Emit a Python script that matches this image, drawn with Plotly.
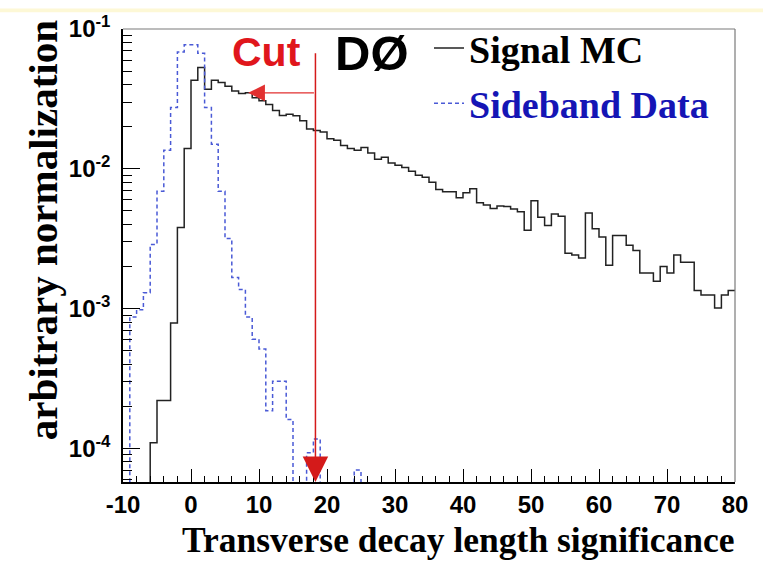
import plotly.graph_objects as go

# ---------------- data ----------------
BIN_EDGES = list(range(-10, 81))  # 90 bins of width 1

SIGNAL_MC = [
    0, 0, 0, 0, 1.1e-4, 2.2e-4, 2.2e-4, 7.9e-4, 3.8e-3, 1.4e-2,          # -10 .. -1
    4.3e-2, 5.3e-2, 3.7e-2, 4.3e-2, 4.15e-2, 3.9e-2, 3.6e-2, 3.45e-2, 3.5e-2, 3.22e-2,  # 0 .. 9
    3.07e-2, 2.88e-2, 2.61e-2, 2.41e-2, 2.46e-2, 2.40e-2, 2.21e-2, 1.93e-2, 1.88e-2, 1.83e-2,  # 10 .. 19
    1.64e-2, 1.60e-2, 1.47e-2, 1.40e-2, 1.36e-2, 1.42e-2, 1.30e-2, 1.17e-2, 1.21e-2, 1.10e-2,  # 20 .. 29
    1.06e-2, 1.02e-2, 9.6e-3, 9.0e-3, 8.7e-3, 8.0e-3, 7.1e-3, 6.85e-3, 6.85e-3, 6.2e-3,  # 30 .. 39
    6.74e-3, 7.2e-3, 5.73e-3, 5.5e-3, 5.2e-3, 5.43e-3, 5.37e-3, 5.15e-3, 4.93e-3, 3.63e-3,  # 40 .. 49
    5.9e-3, 4.5e-3, 3.93e-3, 4.75e-3, 4.57e-3, 2.49e-3, 2.42e-3, 2.3e-3, 4.83e-3, 3.72e-3,  # 50 .. 59
    3.25e-3, 2.04e-3, 3.34e-3, 3.34e-3, 2.84e-3, 2.6e-3, 1.80e-3, 1.80e-3, 1.57e-3, 2.0e-3,  # 60 .. 69
    1.80e-3, 2.42e-3, 2.15e-3, 2.15e-3, 1.35e-3, 1.25e-3, 1.25e-3, 1.01e-3, 1.25e-3, 1.35e-3,  # 70 .. 79
]

SIDEBAND_DATA = [
    0, 8.7e-4, 9.8e-4, 1.30e-3, 2.88e-3, 6.9e-3, 1.36e-2, 2.74e-2, 6.86e-2, 7.7e-2,   # -10 .. -1
    7.7e-2, 6.7e-2, 2.74e-2, 1.5e-2, 6.9e-3, 3.17e-3, 1.67e-3, 1.37e-3, 8.7e-4, 6.05e-4,  # 0 .. 9
    5.15e-4, 1.86e-4, 3.03e-4, 3.03e-4, 1.61e-4, 0, 0, 9.3e-5, 1.17e-4, 0,              # 10 .. 19
    0, 0, 0, 0, 7.0e-5, 0, 0, 0, 0, 0,                                                   # 20 .. 29
] + [0] * 50                                                                             # 30 .. 79

CUT_VALUE = 18.3

X_TICKS = [-10, 0, 10, 20, 30, 40, 50, 60, 70, 80]
X_TICK_LABELS = ["-10", "0", "10", "20", "30", "40", "50", "60", "70", "80"]
Y_TICKS = [1e-4, 1e-3, 1e-2, 1e-1]
Y_TICK_LABELS = ["10<sup>-4</sup>", "10<sup>-3</sup>", "10<sup>-2</sup>", "10<sup>-1</sup>"]
Y_MINOR = [k * 10.0 ** n for n in range(-5, -1) for k in range(2, 10)]

FLOOR = 1e-9  # empty bins drawn below the visible range


def hist_xy(vals):
    y = [v if v > 0 else FLOOR for v in vals]
    return BIN_EDGES, y + [y[-1]]


sx, sy = hist_xy(SIGNAL_MC)
bx, by = hist_xy(SIDEBAND_DATA)

fig = go.Figure()
fig.add_trace(go.Scatter(
    x=sx, y=sy, mode="lines", name="Signal MC", legendgroup="a",
    line=dict(shape="hv", color="#222222", width=1.5),
))
fig.add_trace(go.Scatter(
    x=bx, y=by, mode="lines",
    name="<span style='color:#1515b5'>Sideband Data</span>", legendgroup="b",
    line=dict(shape="hv", color="#4a5ad6", width=1.5, dash="4px,3px"),
))

tickfont = dict(family="Liberation Sans, Arial, sans-serif", size=24, color="black", weight="bold")

fig.update_layout(
    width=763, height=561,
    margin=dict(l=123, r=28, t=20, b=79),
    paper_bgcolor="white", plot_bgcolor="white",
    showlegend=True,
    legend=dict(
        x=0.50, y=1.027, xanchor="left", yanchor="top",
        bgcolor="rgba(0,0,0,0)", borderwidth=0,
        font=dict(family="Liberation Serif, Times New Roman, serif", size=38, color="black", weight="bold"),
        tracegroupgap=3, itemwidth=30, traceorder="grouped",
    ),
    xaxis=dict(
        range=[-10, 80], tickmode="array", tickvals=X_TICKS, ticktext=X_TICK_LABELS,
        ticks="inside", ticklen=13, tickwidth=1, tickcolor="black",
        showline=True, linecolor="black", linewidth=1.5, mirror=False,
        showgrid=False, zeroline=False, tickfont=tickfont, ticklabelstandoff=0,
        minor=dict(ticks="inside", ticklen=6, tickwidth=1, tickcolor="black",
                   tickmode="linear", tick0=-10, dtick=2, showgrid=False),
    ),
    yaxis=dict(
        type="log", range=[-4.24, -1], tickmode="array", tickvals=Y_TICKS, ticktext=Y_TICK_LABELS,
        ticks="inside", ticklen=17, tickwidth=1, tickcolor="black",
        showline=True, linecolor="black", linewidth=1.5, mirror=False,
        showgrid=False, zeroline=False, tickfont=tickfont, ticklabelstandoff=6,
        minor=dict(ticks="inside", ticklen=9, tickwidth=1, tickcolor="black",
                   tickmode="array", tickvals=Y_MINOR, showgrid=False),
    ),
)

# frame (top/right) and light band at the very top of the page
fig.add_shape(type="line", xref="paper", yref="paper", x0=0, x1=1, y0=1, y1=1,
              line=dict(color="#7a7a7a", width=1.2))
fig.add_shape(type="line", xref="paper", yref="paper", x0=1, x1=1, y0=0, y1=1,
              line=dict(color="#7a7a7a", width=1.2))
fig.add_shape(type="rect", xref="paper", yref="paper", x0=-0.3, x1=1.2,
              y0=1 + 17 / 462, y1=1 + 21 / 462, fillcolor="#fdf8d6", line=dict(width=0), layer="below")

# cut arrows
fig.add_annotation(x=CUT_VALUE, y=0, xref="x", yref="y domain",
                   ax=CUT_VALUE, ay=0.95, axref="x", ayref="y domain",
                   text="", showarrow=True, arrowhead=2, arrowsize=3.4, arrowwidth=1.5,
                   arrowcolor="#d41a1a", standoff=0)
fig.add_annotation(x=8.4, y=0.859, xref="x", yref="y domain",
                   ax=CUT_VALUE, ay=0.859, axref="x", ayref="y domain",
                   text="", showarrow=True, arrowhead=2, arrowsize=2.8, arrowwidth=1.2,
                   arrowcolor="#e23030", standoff=0)

# texts
fig.add_annotation(x=0.2337, y=0.949, xref="paper", yref="paper", text="Cut", showarrow=False,
                   xanchor="center", yanchor="middle",
                   font=dict(family="Liberation Sans, Arial, sans-serif", size=41, color="#e0161c", weight="bold"))
fig.add_annotation(x=0.407, y=0.948, xref="paper", yref="paper", text="DØ", showarrow=False,
                   xanchor="center", yanchor="middle",
                   font=dict(family="Liberation Sans, Arial, sans-serif", size=49, color="black", weight="bold"))
fig.add_annotation(x=-0.1307, y=1.024, xref="paper", yref="paper", text="arbitrary normalization",
                   showarrow=False, textangle=-90, xanchor="center", yanchor="top",
                   font=dict(family="Liberation Serif, Times New Roman, serif", size=41, color="black", weight="bold"))
fig.add_annotation(x=1.003, y=-0.127, xref="paper", yref="paper", text="Transverse decay length significance",
                   showarrow=False, xanchor="right", yanchor="middle",
                   font=dict(family="Liberation Serif, Times New Roman, serif", size=35.5, color="black", weight="bold"))

fig.write_html("out.html")
